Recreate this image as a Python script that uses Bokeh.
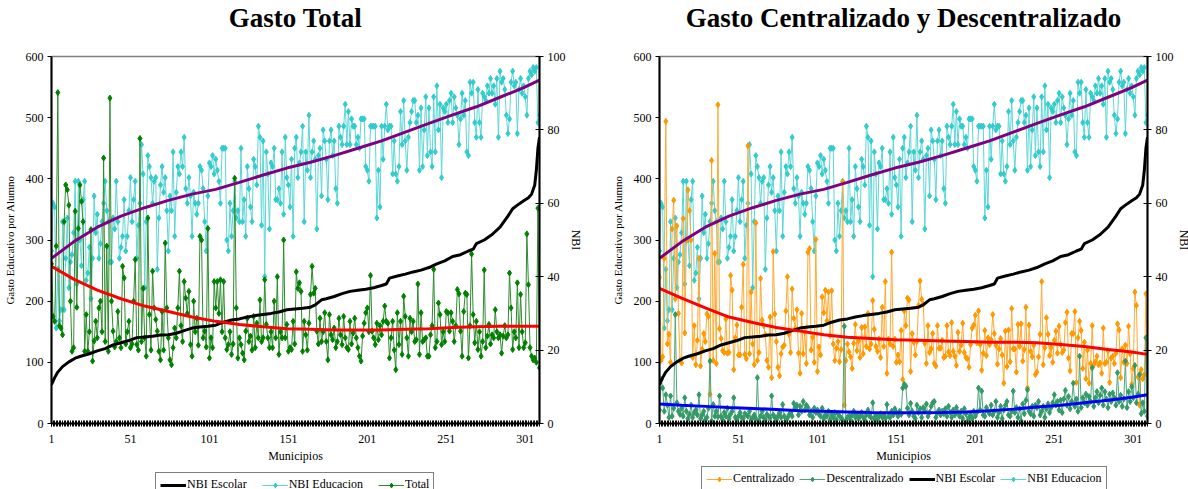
from bokeh.plotting import figure
from bokeh.layouts import row, column
from bokeh.models import Range1d, LinearAxis, FixedTicker, Legend, LegendItem, Title
from bokeh.embed import file_html
from bokeh.resources import INLINE

FONT = "Liberation Serif"

municipios = list(range(1, 311))

# gasto total por alumno (eje izquierdo)
total = [
    261, 175, 167, 290, 541, 160, 156, 145, 330, 390,
    382, 357, 200, 118, 124, 347, 190, 319, 390, 363,
    330, 118, 178, 118, 150, 317, 102, 135, 167, 140,
    189, 200, 150, 434, 134, 290, 118, 532, 200, 151,
    125, 134, 183, 140, 124, 257, 238, 130, 150, 167,
    124, 130, 200, 268, 129, 120, 466, 134, 221, 140,
    110, 336, 178, 120, 249, 189, 170, 151, 118, 104,
    183, 120, 295, 189, 140, 104, 96, 124, 156, 140,
    189, 249, 160, 134, 232, 205, 180, 216, 129, 110,
    200, 150, 172, 128, 306, 300, 140, 151, 125, 319,
    107, 140, 124, 232, 189, 232, 180, 235, 150, 232,
    140, 121, 129, 150, 113, 130, 401, 189, 107, 140,
    129, 115, 104, 151, 172, 134, 143, 120, 175, 124,
    164, 140, 202, 134, 140, 235, 162, 140, 124, 150,
    124, 200, 140, 240, 113, 150, 140, 300, 140, 162,
    118, 124, 121, 167, 130, 248, 221, 230, 216, 118,
    167, 145, 120, 164, 211, 257, 213, 221, 151, 130,
    172, 134, 150, 181, 134, 104, 178, 145, 137, 156,
    124, 134, 172, 145, 129, 175, 140, 124, 121, 167,
    130, 148, 172, 140, 124, 110, 102, 143, 164, 181,
    189, 150, 242, 151, 140, 129, 164, 137, 160, 145,
    167, 192, 167, 164, 107, 140, 167, 120, 88, 181,
    129, 167, 113, 208, 175, 140, 110, 172, 150, 167,
    134, 137, 228, 113, 181, 134, 137, 140, 110, 110,
    145, 160, 252, 124, 134, 197, 178, 129, 150, 134,
    183, 181, 151, 181, 167, 134, 160, 219, 212, 151,
    110, 183, 213, 211, 107, 160, 277, 178, 132, 167,
    121, 150, 110, 134, 251, 124, 143, 162, 130, 145,
    140, 186, 150, 140, 145, 115, 143, 160, 140, 145,
    246, 189, 121, 150, 140, 230, 124, 211, 150, 124,
    132, 310, 227, 124, 110, 104, 107, 100, 352, 91,
]

descentralizado = [
    22, 72, 58, 20, 47, 30, 10, 45, 12, 25,
    178, 34, 20, 15, 25, 12, 42, 20, 8, 15,
    30, 10, 18, 22, 14, 47, 8, 14, 20, 6,
    10, 25, 102, 4, 31, 12, 20, 11, 45, 12,
    6, 18, 12, 25, 8, 15, 20, 42, 10, 6,
    12, 18, 10, 8, 16, 14, 12, 20, 6, 10,
    14, 8, 75, 4, 12, 20, 10, 6, 15, 12,
    9, 45, 14, 10, 6, 12, 18, 10, 31, 12,
    5, 9, 14, 18, 12, 33, 25, 30, 14, 28,
    20, 36, 22, 30, 26, 14, 20, 10, 25, 18,
    22, 15, 12, 25, 8, 14, 12, 20, 6, 15,
    10, 18, 6, 16, 12, 9, 6, 159, 4, 10,
    12, 6, 14, 20, 10, 15, 8, 12, 18, 10,
    6, 14, 22, 12, 10, 34, 8, 14, 6, 12,
    16, 10, 14, 8, 31, 12, 10, 20, 14, 24,
    18, 12, 20, 15, 58, 64, 61, 25, 14, 33,
    20, 12, 8, 30, 18, 24, 10, 26, 20, 32,
    12, 18, 28, 34, 36, 10, 18, 22, 14, 20,
    16, 24, 12, 28, 18, 10, 22, 14, 26, 18,
    12, 20, 8, 24, 16, 4, 10, 14, 8, 20,
    12, 18, 58, 22, 53, 14, 12, 26, 20, 16,
    30, 14, 20, 36, 10, 18, 28, 8, 22, 30,
    36, 14, 12, 20, 53, 18, 26, 10, 24, 4,
    32, 16, 38, 55, 20, 16, 28, 12, 30, 26,
    36, 14, 20, 28, 10, 24, 32, 18, 26, 34,
    47, 30, 36, 22, 38, 18, 40, 54, 30, 44,
    24, 36, 66, 28, 40, 20, 110, 26, 42, 34,
    48, 30, 44, 36, 91, 28, 42, 52, 34, 46,
    58, 30, 52, 40, 26, 48, 36, 50, 42, 30,
    83, 36, 46, 28, 40, 102, 26, 52, 36, 60,
    42, 95, 34, 48, 80, 16, 34, 20, 140, 12,
]

# el gasto centralizado es el total menos lo descentralizado
centralizado = [max(t - d, 0) for t, d in zip(total, descentralizado)]

# NBI educacion (eje derecho)
nbi_educacion = [
    47, 60, 59, 26, 42, 28, 31, 55, 31, 45,
    56, 37, 44, 46, 52, 66, 38, 66, 50, 43,
    61, 66, 39, 41, 48, 34, 45, 62, 52, 57,
    45, 49, 55, 60, 66, 58, 55, 44, 44, 56,
    53, 66, 55, 45, 48, 51, 61, 47, 51, 58,
    67, 55, 61, 66, 45, 54, 60, 76, 68, 37,
    55, 73, 70, 67, 60, 66, 67, 42, 56, 65,
    70, 63, 67, 58, 47, 62, 58, 74, 51, 63,
    70, 68, 74, 70, 78, 64, 60, 67, 62, 51,
    63, 60, 57, 60, 70, 69, 64, 55, 47, 62,
    71, 70, 73, 68, 72, 69, 66, 60, 75, 75,
    75, 50, 47, 60, 51, 58, 66, 56, 58, 55,
    75, 55, 61, 51, 70, 64, 59, 55, 72, 70,
    65, 81, 78, 54, 77, 40, 74, 68, 53, 71,
    70, 75, 61, 61, 64, 60, 74, 57, 78, 67,
    65, 59, 72, 51, 75, 78, 67, 71, 74, 81,
    55, 74, 69, 84, 67, 74, 77, 72, 53, 73,
    75, 62, 80, 77, 72, 61, 77, 80, 73, 77,
    64, 60, 81, 78, 76, 81, 87, 76, 85, 76,
    83, 81, 81, 76, 78, 75, 83, 83, 83, 70,
    69, 66, 81, 81, 81, 81, 56, 69, 59, 81,
    72, 81, 87, 80, 81, 81, 68, 77, 68, 66,
    70, 85, 76, 88, 77, 69, 78, 82, 85, 88,
    88, 82, 84, 69, 86, 70, 80, 89, 73, 86,
    74, 70, 89, 74, 92, 80, 87, 67, 86, 85,
    87, 82, 88, 90, 82, 89, 86, 84, 76, 83,
    90, 84, 88, 74, 73, 93, 90, 93, 82, 78,
    91, 82, 78, 90, 89, 88, 92, 90, 94, 90,
    92, 87, 94, 78, 96, 93, 94, 91, 84, 79,
    83, 93, 96, 92, 93, 79, 91, 94, 90, 92,
    89, 84, 94, 96, 95, 97, 96, 97, 82, 84,
]

# NBI escolar (ordenado, eje derecho)
escolar_mun = [1, 3, 5, 8, 12, 16, 20, 25, 30, 35, 40, 45, 50, 55, 60, 65, 70, 75,
               80, 85, 90, 95, 100, 105, 110, 115, 120, 125, 130, 135, 140, 145, 150,
               155, 160, 165, 168, 172, 175, 180, 185, 190, 195, 200, 205, 210, 213,
               215, 220, 225, 230, 235, 240, 245, 250, 255, 260, 265, 268, 270, 275,
               280, 285, 290, 293, 296, 300, 303, 305, 307, 308, 309, 310]
nbi_escolar = [10.6, 12.5, 14, 15.5, 16.8, 17.8, 18.4, 19, 19.8, 20.4, 21.4, 22, 22.6,
               23.4, 23.6, 23.8, 24.1, 24.2, 24.6, 25.3, 26, 26.3, 26.5, 26.8, 27.6,
               28.2, 28.5, 29, 29.4, 29.7, 30, 30.4, 31, 31.2, 31.4, 31.7, 32.3, 33.7,
               34, 34.6, 35.4, 36, 36.3, 36.6, 37, 37.6, 38, 39.6, 40.2, 40.7, 41.3,
               41.8, 42.5, 43.5, 44.3, 45.5, 46, 47, 47.5, 49, 50, 51.5, 53.5, 56.5,
               58.5, 59.5, 60.7, 61.5, 62.5, 65, 69, 75, 78]

# lineas de tendencia
trend_mun = [1, 15, 30, 45, 60, 75, 90, 105, 120, 135, 150, 165, 180, 195, 210,
             225, 240, 255, 270, 285, 300, 310]
total_trend = [257, 236, 218, 204, 192, 183, 174, 167, 162, 158, 155, 154, 153, 153,
               153, 154, 155, 157, 158, 159, 159, 159]
centr_trend = [221, 205, 189, 174, 165, 157, 151, 145, 141, 139, 137, 136, 135, 134,
               133, 133, 132, 129, 126, 121, 117, 113]
desc_trend = [32, 30, 28, 26, 24.5, 23, 21, 20, 19, 18, 17.5, 17.5, 18, 19, 21, 23.5,
              27, 30, 34, 38, 43, 47]
educ_trend = [45, 49.5, 53.5, 56.5, 58.8, 60.8, 62.5, 63.8, 65.7, 67.7, 69.6, 71.2,
              73, 75, 77, 79.4, 81.8, 84.1, 86.3, 88.9, 91.5, 93.6]

x_ticks = [1, 51, 101, 151, 201, 251, 301]

CYAN, CYAN_LINE = "#33CCCC", "#5ED6D6"
GREEN, GREEN_LINE = "#008000", "#2E8B2E"
ORANGE, ORANGE_LINE = "#FF9900", "#FFAA33"
SEA, SEA_LINE = "#339966", "#4DA67A"


def make_figure(title, border_left, border_right):
    p = figure(frame_width=488, frame_height=367, output_backend="svg",
               toolbar_location=None,
               x_range=Range1d(1, 310), y_range=Range1d(0, 600),
               min_border_left=border_left, min_border_right=border_right,
               min_border_top=0, min_border_bottom=43)
    p.extra_y_ranges = {"nbi": Range1d(0, 100)}
    p.title.text = title
    p.title.align = "center"
    p.title.text_font = FONT
    p.title.text_font_size = "27px"
    p.title.text_font_style = "bold"
    p.title.text_color = "black"
    p.title.standoff = 0
    # espacio en blanco entre el titulo y el grafico
    p.add_layout(Title(text=" ", text_font_size="12px", standoff=8), "above")
    p.grid.grid_line_color = None
    p.outline_line_color = "#808080"
    p.outline_line_width = 1.5

    p.xaxis.ticker = FixedTicker(ticks=x_ticks, minor_ticks=municipios)
    p.xaxis.axis_label = "Municipios"
    p.xaxis.major_tick_in = 3
    p.xaxis.major_tick_out = 3
    p.xaxis.minor_tick_in = 3
    p.xaxis.minor_tick_out = 3
    p.xaxis.minor_tick_line_color = "black"
    p.xaxis.major_label_standoff = 8
    p.xaxis.axis_label_standoff = 3

    p.yaxis.ticker = FixedTicker(ticks=[0, 100, 200, 300, 400, 500, 600])
    p.yaxis.axis_label = "Gasto Educativo por Alumno"
    p.yaxis.major_tick_in = 0
    p.yaxis.major_tick_out = 4
    p.yaxis.minor_tick_line_color = None
    p.yaxis.major_label_standoff = 4
    p.yaxis.axis_label_standoff = 7

    right = LinearAxis(y_range_name="nbi", axis_label="NBI",
                       ticker=FixedTicker(ticks=[0, 20, 40, 60, 80, 100]))
    right.major_tick_in = 4
    right.major_tick_out = 4
    right.minor_tick_line_color = None
    right.major_label_standoff = 4
    right.axis_label_standoff = 0
    p.add_layout(right, "right")

    for ax in p.axis:
        ax.axis_line_color = "black"
        ax.axis_line_width = 2
        ax.major_tick_line_color = "black"
        ax.major_label_text_font = FONT
        ax.major_label_text_font_size = "12px"
        ax.major_label_text_color = "black"
        ax.axis_label_text_font = FONT
        ax.axis_label_text_font_size = "12px"
        ax.axis_label_text_font_style = "normal"
        ax.axis_label_text_color = "black"
    p.yaxis[0].axis_label_text_font_size = "11px"
    return p


def add_series(p, y, color, line_color, y_range="default"):
    p.line(municipios, y, line_color=line_color, line_width=1, y_range_name=y_range)
    p.scatter(municipios, y, marker="diamond", size=6, fill_color=color,
              line_color=color, y_range_name=y_range)


def legend_figure(width, entries, x_pos, y_pos, spacing):
    # figura aparte, solo con la leyenda, debajo de cada grafico
    lf = figure(width=width, height=28, output_backend="svg", toolbar_location=None,
                x_range=Range1d(0, 1), y_range=Range1d(0, 1),
                x_axis_type=None, y_axis_type=None, min_border=0)
    lf.outline_line_color = None
    items = []
    for label, color, line_color, lw in entries:
        # muestras fuera del rango visible: solo sirven para la leyenda
        rs = [lf.line([5, 6], [5, 6], line_color=line_color, line_width=lw)]
        if color is not None:
            rs.append(lf.scatter([5.5], [5.5], marker="diamond", size=6,
                                 fill_color=color, line_color=color))
        items.append(LegendItem(label=label, renderers=rs))
    legend = Legend(items=items, orientation="horizontal", location=(x_pos, y_pos))
    legend.border_line_color = "black"
    legend.border_line_width = 1
    legend.label_text_font = FONT
    legend.label_text_font_size = "12px"
    legend.label_text_color = "black"
    legend.label_standoff = 1
    legend.glyph_width = 26
    legend.glyph_height = 12
    legend.spacing = spacing
    legend.padding = 4
    legend.margin = 0
    lf.add_layout(legend)
    return lf


# ---- Gasto Total ----
p1 = make_figure("Gasto Total", 45, 43)
add_series(p1, nbi_educacion, CYAN, CYAN_LINE, "nbi")
add_series(p1, total, GREEN, GREEN_LINE)
p1.line(escolar_mun, nbi_escolar, line_color="black", line_width=3, y_range_name="nbi")
p1.line(trend_mun, educ_trend, line_color="#800080", line_width=3, y_range_name="nbi")
p1.line(trend_mun, total_trend, line_color="#FF0000", line_width=3)
leg1 = legend_figure(576, [("NBI Escolar", None, "black", 3),
                           ("NBI Educacion", CYAN, CYAN_LINE, 1),
                           ("Total", GREEN, GREEN_LINE, 1)], 104, -3, 15)

# ---- Gasto Centralizado y Descentralizado ----
p2 = make_figure("Gasto Centralizado y Descentralizado", 74, 43)
add_series(p2, nbi_educacion, CYAN, CYAN_LINE, "nbi")
add_series(p2, centralizado, ORANGE, ORANGE_LINE)
add_series(p2, descentralizado, SEA, SEA_LINE)
p2.line(escolar_mun, nbi_escolar, line_color="black", line_width=3, y_range_name="nbi")
p2.line(trend_mun, educ_trend, line_color="#800080", line_width=3, y_range_name="nbi")
p2.line(trend_mun, centr_trend, line_color="#FF0000", line_width=3)
p2.line(trend_mun, desc_trend, line_color="#0000FF", line_width=3)
leg2 = legend_figure(605, [("Centralizado", ORANGE, ORANGE_LINE, 1),
                           ("Descentralizado", SEA, SEA_LINE, 1),
                           ("NBI Escolar", None, "black", 3),
                           ("NBI Educacion", CYAN, CYAN_LINE, 1)], 42, 3, 5)

layout = row(column(p1, leg1), column(p2, leg2))
open("out.html", "w").write(file_html(layout, INLINE))
